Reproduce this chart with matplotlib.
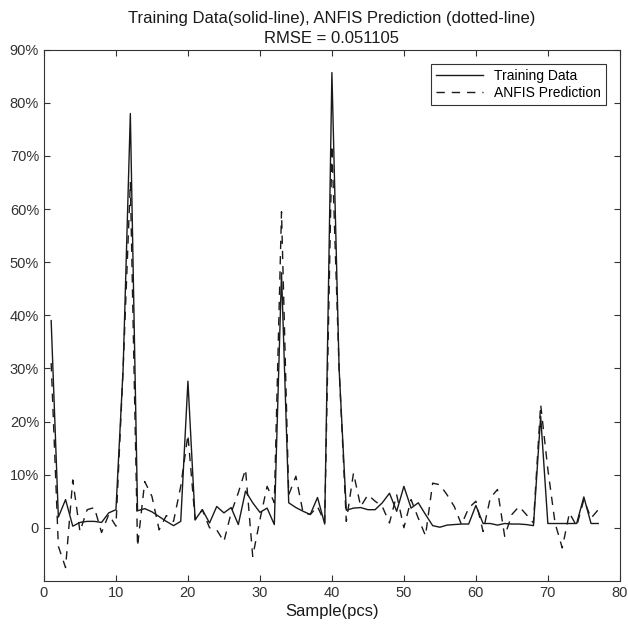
import numpy as np
import matplotlib
matplotlib.use('Agg')
import matplotlib.pyplot as plt
from matplotlib.ticker import FuncFormatter

plt.rcParams['font.family'] = ['Liberation Sans', 'DejaVu Sans']

# sample index 1..77, values in fraction (0.10 = 10%)
sample = np.arange(1, 78)
training = [0.39, 0.02, 0.053, 0.003, 0.010, 0.012, 0.012, 0.010, 0.028, 0.034,
            0.30, 0.78, 0.032, 0.036, 0.030, 0.021, 0.012, 0.004, 0.012, 0.276,
            0.015, 0.034, 0.009, 0.040, 0.028, 0.038, 0.006, 0.069, 0.047, 0.029,
            0.037, 0.006, 0.48, 0.047, 0.038, 0.031, 0.025, 0.057, 0.007, 0.857,
            0.30, 0.033, 0.037, 0.038, 0.034, 0.034, 0.047, 0.065, 0.031, 0.078,
            0.037, 0.047, 0.025, 0.004, 0.001, 0.005, 0.006, 0.007, 0.007, 0.042,
            0.008, 0.008, 0.005, 0.008, 0.007, 0.007, 0.006, 0.004, 0.21, 0.008,
            0.008, 0.008, 0.008, 0.008, 0.058, 0.008, 0.008]
prediction = [0.31, -0.035, -0.075, 0.09, -0.007, 0.034, 0.038, -0.009, 0.025, 0.003,
              0.30, 0.65, -0.035, 0.087, 0.059, -0.004, 0.023, 0.012, 0.078, 0.175,
              0.015, 0.034, 0.0, -0.004, -0.026, 0.028, 0.066, 0.11, -0.054, 0.015,
              0.078, 0.047, 0.595, 0.062, 0.097, 0.028, 0.025, 0.04, 0.01, 0.72,
              0.30, 0.012, 0.103, 0.04, 0.062, 0.05, 0.04, 0.009, 0.062, 0.0,
              0.053, 0.018, -0.015, 0.084, 0.081, 0.062, 0.04, 0.006, 0.037, 0.05,
              -0.007, 0.056, 0.072, -0.016, 0.025, 0.04, 0.025, 0.009, 0.232, 0.11,
              0.009, -0.038, 0.028, 0.003, 0.053, 0.018, 0.034]

fig = plt.figure(figsize=(6.28, 6.30), dpi=100)
ax = fig.add_axes([0.070, 0.078, 0.917, 0.843])
ax.plot(sample, training, color='#1a1a1a', lw=1.0, label='Training Data')
ax.plot(sample, prediction, color='#1a1a1a', lw=1.0, linestyle=(0, (6, 5)),
        label='ANFIS Prediction')

ax.set_xlim(0, 80)
ax.set_ylim(-0.1, 0.9)
ax.set_xticks(np.arange(0, 81, 10))
ax.set_yticks(np.arange(0, 0.91, 0.1))
ax.yaxis.set_major_formatter(FuncFormatter(
    lambda v, p: '0' if abs(v) < 1e-9 else '%d%%' % round(v * 100)))
ax.tick_params(direction='in', top=True, right=True, length=4,
               labelsize=10.5, colors='#333333')
for s in ax.spines.values():
    s.set_color('#333333')
    s.set_linewidth(0.8)

ax.set_title('Training Data(solid-line), ANFIS Prediction (dotted-line)\nRMSE = 0.051105',
             fontsize=12, color='#1a1a1a', pad=5, linespacing=1.4)
ax.set_xlabel('Sample(pcs)', fontsize=12, color='#1a1a1a', labelpad=3)

leg = ax.legend(loc='upper right', fontsize=10, fancybox=False,
                framealpha=1, edgecolor='#333333', borderaxespad=1.0,
                handlelength=3.4, borderpad=0.35, labelspacing=0.25)
leg.get_frame().set_linewidth(0.8)

fig.savefig('out.png', dpi=100)
